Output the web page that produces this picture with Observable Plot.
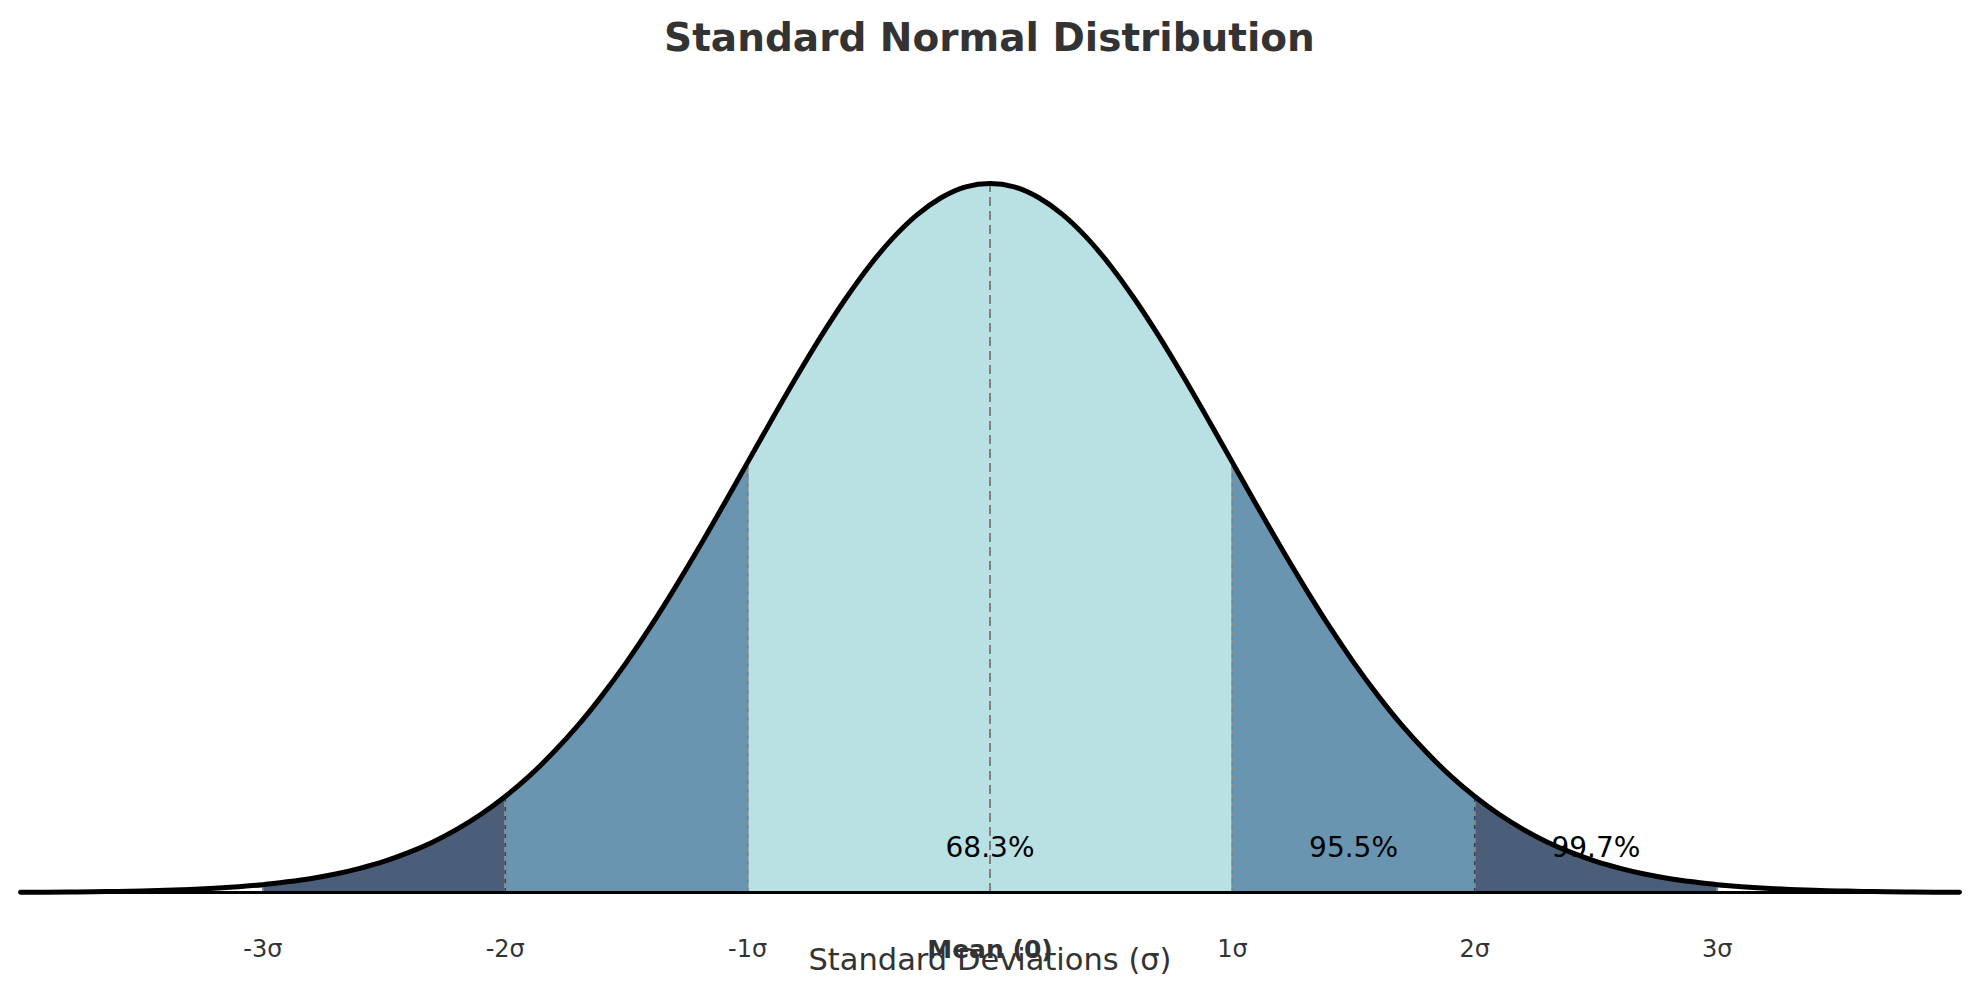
<!DOCTYPE html>
<html>
<head>
<meta charset="utf-8">
<script src="https://cdn.jsdelivr.net/npm/d3@7"></script>
<script src="https://cdn.jsdelivr.net/npm/@observablehq/plot@0.6"></script>
<style>
  html, body { margin: 0; padding: 0; background: #ffffff; }
  #title { width: 1979px; height: 76px; line-height: 76px; text-align: center;
           font-family: "DejaVu Sans", sans-serif; font-weight: bold; font-size: 39px; color: #333333; }
  #chart svg { display: block; overflow: visible; }
</style>
</head>
<body>
<div id="title">Standard Normal Distribution</div>
<div id="chart"></div>
<script>
// Curve sample positions (σ) and density
const xs = [-4.0,-3.9,-3.8,-3.7,-3.6,-3.5,-3.4,-3.3,-3.2,-3.1,
            -3.0,-2.9,-2.8,-2.7,-2.6,-2.5,-2.4,-2.3,-2.2,-2.1,
            -2.0,-1.9,-1.8,-1.7,-1.6,-1.5,-1.4,-1.3,-1.2,-1.1,
            -1.0,-0.9,-0.8,-0.7,-0.6,-0.5,-0.4,-0.3,-0.2,-0.1,
             0.0, 0.1, 0.2, 0.3, 0.4, 0.5, 0.6, 0.7, 0.8, 0.9,
             1.0, 1.1, 1.2, 1.3, 1.4, 1.5, 1.6, 1.7, 1.8, 1.9,
             2.0, 2.1, 2.2, 2.3, 2.4, 2.5, 2.6, 2.7, 2.8, 2.9,
             3.0, 3.1, 3.2, 3.3, 3.4, 3.5, 3.6, 3.7, 3.8, 3.9, 4.0];
const density = [0.0001,0.0002,0.0003,0.0004,0.0006,0.0009,0.0012,0.0017,0.0024,0.0033,
                 0.0044,0.0060,0.0079,0.0104,0.0136,0.0175,0.0224,0.0283,0.0355,0.0440,
                 0.0540,0.0656,0.0790,0.0940,0.1109,0.1295,0.1497,0.1714,0.1942,0.2179,
                 0.2420,0.2661,0.2897,0.3123,0.3332,0.3521,0.3683,0.3814,0.3910,0.3970,
                 0.3989,0.3970,0.3910,0.3814,0.3683,0.3521,0.3332,0.3123,0.2897,0.2661,
                 0.2420,0.2179,0.1942,0.1714,0.1497,0.1295,0.1109,0.0940,0.0790,0.0656,
                 0.0540,0.0440,0.0355,0.0283,0.0224,0.0175,0.0136,0.0104,0.0079,0.0060,
                 0.0044,0.0033,0.0024,0.0017,0.0012,0.0009,0.0006,0.0004,0.0003,0.0002,0.0001];

// Shaded bands
const bandLo = [-3, -2, -1, 1, 2];
const bandHi = [-2, -1, 1, 2, 3];
const bandColor = ["#4a5e7a", "#6995b0", "#b9e1e3", "#6995b0", "#4a5e7a"];

// Boundary lines
const boundaryX = [-3, -2, -1, 1, 2, 3];
const dashX = [-2, -1, 1, 2];
const dashColor = ["#2a4468", "#4f8fb8", "#4f8fb8", "#2a4468"];

// Tick labels
const tickX = [-3, -2, -1, 1, 2, 3];
const tickLabels = ["-3σ", "-2σ", "-1σ", "1σ", "2σ", "3σ"];
const meanLabel = "Mean (0)";
const axisLabel = "Standard Deviations (σ)";

// Percentage annotations
const pctX = [0, 1.5, 2.5];
const pctY = [0.025, 0.025, 0.025];
const pctText = ["68.3%", "95.5%", "99.7%"];

const pts = xs.map((x, i) => ({x, y: density[i]}));
const at = (x) => pts.find(p => Math.abs(p.x - x) < 1e-9).y;
const bands = bandLo.map((lo, i) => ({lo, hi: bandHi[i], color: bandColor[i]}));

const marks = [];
for (const b of bands) {
  marks.push(Plot.areaY(pts.filter(p => p.x >= b.lo - 1e-9 && p.x <= b.hi + 1e-9),
    {x: "x", y: "y", fill: b.color, curve: "monotone-x"}));
}
marks.push(Plot.ruleX(boundaryX.map(x => ({x, y: at(x)})), {x: "x", y1: 0, y2: "y", stroke: "#8a8a8a", strokeWidth: 2}));
marks.push(Plot.ruleX(dashX.map((x, i) => ({x, y: at(x), c: dashColor[i]})), {x: "x", y1: 0, y2: "y", stroke: "c", strokeWidth: 1.6, strokeDasharray: "4,5"}));
marks.push(Plot.ruleX([{x: 0, y: at(0)}], {x: "x", y1: 0, y2: "y", stroke: "#808080", strokeWidth: 2, strokeDasharray: "9,5"}));
marks.push(Plot.ruleY([0], {x1: xs[0], x2: xs[xs.length - 1], stroke: "#000000", strokeWidth: 3}));
marks.push(Plot.line(pts, {x: "x", y: "y", stroke: "#000000", strokeWidth: 5, curve: "monotone-x"}));
marks.push(Plot.text(pctText.map((t, i) => ({x: pctX[i], y: pctY[i], t})), {x: "x", y: "y", text: "t", fill: "#000000", fontSize: 28}));
marks.push(Plot.text(tickX.map((x, i) => ({x, t: tickLabels[i]})), {x: "x", y: 0, text: "t", dy: 57, fill: "#333333", fontSize: 24}));
marks.push(Plot.text([{x: 0, t: meanLabel}], {x: "x", y: 0, text: "t", dy: 57, fill: "#333333", fontSize: 25, fontWeight: "bold"}));
marks.push(Plot.text([{x: 0, t: axisLabel}], {x: "x", y: 0, text: "t", dy: 68, fill: "#333333", fontSize: 30.5}));

const chart = Plot.plot({
  width: 1979,
  height: 920,
  margin: 0,
  x: {domain: [-4, 4], range: [20, 1959], axis: null},
  y: {domain: [0, 0.3989], range: [816, 107], axis: null},
  style: {fontFamily: "DejaVu Sans, sans-serif", background: "#ffffff", overflow: "visible"},
  marks
});
document.getElementById("chart").appendChild(chart);
</script>
</body>
</html>
